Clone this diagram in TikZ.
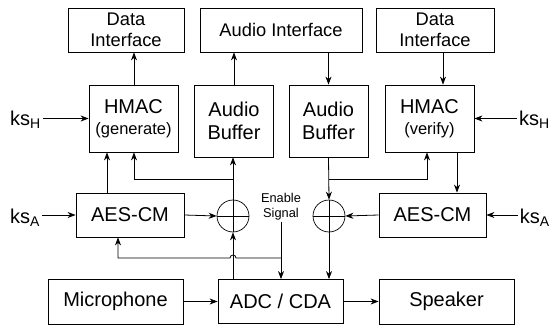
\documentclass[tikz,border=0pt]{standalone}
\usepackage{fontspec}
\setmainfont{Liberation Sans}
\usetikzlibrary{arrows.meta,calc}

\tikzset{
  every picture/.style={x=1pt,y=-1pt},
  box/.style={draw,line width=0.8pt,align=center,inner sep=0pt,
    font=\fontsize{20}{23}\selectfont},
  ifbox/.style={box,font=\fontsize{18.3}{21.5}\selectfont},
  subtxt/.style={font=\fontsize{16.5}{19}\selectfont},
  xorc/.style={draw,circle,line width=0.7pt,minimum size=32pt,inner sep=0pt,
    path picture={\draw[line width=0.7pt]
      (path picture bounding box.north) -- (path picture bounding box.south)
      (path picture bounding box.west) -- (path picture bounding box.east);}},
  arr/.style={line width=0.8pt,-{Stealth[length=8pt,width=6pt,inset=2.5pt]}},
  keylbl/.style={inner sep=2pt,font=\fontsize{20}{23}\selectfont}
}

\begin{document}
\begin{tikzpicture}
\useasboundingbox (0,0) rectangle (552,329);

% top row: interfaces
\node[ifbox,minimum width=116pt,minimum height=44pt] (dil) at (126,30) {Data\\Interface};
\node[ifbox,minimum width=162pt,minimum height=44pt] (ai) at (281,30) {Audio Interface};
\node[ifbox,minimum width=118pt,minimum height=44pt] (dir) at (435,30) {Data\\Interface};

% second row: HMACs and buffers
\node[box,minimum width=89pt,minimum height=67pt] (hg) at (133.5,118.5)
  {HMAC\\[-2pt]{\fontsize{16.5}{19}\selectfont(generate)}};
\node[box,minimum width=79pt,minimum height=72pt] (bl) at (234,121) {Audio\\Buffer};
\node[box,minimum width=79pt,minimum height=72pt] (br) at (328.5,121) {Audio\\Buffer};
\node[box,minimum width=89pt,minimum height=67pt] (hv) at (429.5,118.5)
  {HMAC\\[-2pt]{\fontsize{16.5}{19}\selectfont(verify)}};

% third row: ciphers and mixers
\node[box,minimum width=108pt,minimum height=44pt] (aesl) at (130,215) {AES-CM};
\node[box,minimum width=107pt,minimum height=44pt] (aesr) at (432.5,215) {AES-CM};
\node[xorc] (xorl) at (233,216) {};
\node[xorc] (xorr) at (329,216) {};

% bottom row
\node[box,minimum width=135pt,minimum height=45pt] (mic) at (115.5,301.5) {Microphone};
\node[box,minimum width=125pt,minimum height=44pt] (adc) at (280.5,301.5) {ADC / CDA};
\node[box,minimum width=135pt,minimum height=45pt] (spk) at (446.5,301.5) {Speaker};

% key inputs
\node[keylbl,anchor=west] (kshl) at (8,120) {ks\textsubscript{H}};
\node[keylbl,anchor=west] (ksal) at (8,218) {ks\textsubscript{A}};
\node[keylbl,anchor=east] (kshr) at (552,120) {ks\textsubscript{H}};
\node[keylbl,anchor=east] (ksar) at (552,218) {ks\textsubscript{A}};

% enable signal label
\node[align=center,inner sep=1pt,font=\fontsize{12.8}{15}\selectfont] (en) at (281,207) {Enable\\Signal};

% junction points
\coordinate (jl) at (233,179);
\coordinate (jr) at (329,179);
\coordinate (hgk) at (107,0);
\coordinate (hgb) at (134,0);
\coordinate (hvb) at (427,0);
\coordinate (hvo) at (457,0);
\coordinate (dio) at (443,0);
\coordinate (fb) at (281,258);
\coordinate (fbl) at (118,258);

% key arrows
\draw[arr] (kshl.east |- hg.west) -- (hg.west);
\draw[arr] (ksal.east |- aesl.west) -- (aesl.west);
\draw[arr] (kshr.west |- hv.east) -- (hv.east);
\draw[arr] (ksar.west |- aesr.east) -- (aesr.east);

% sender side
\draw[arr] (hg.north -| hgb) -- (dil.south -| hgb);
\draw[arr] (bl.north) -- (bl.north |- ai.south);
\draw[arr] (aesl.north -| hgk) -- (hg.south -| hgk);
\draw[arr] (adc.north -| xorl) -- (xorl.south);
\draw[arr] (xorl.north) -- (bl.south -| xorl);
\draw[arr] (jl) -| (hg.south -| hgb);
\draw[arr] (aesl.east) -- (xorl.west);

% enable signal and its branch back to the cipher
\draw[arr] (en.south) -- (adc.north -| en.south);
\draw[arr] (fb) -- ([xshift=3pt]fb -| xorl) arc[start angle=0,end angle=180,radius=3pt]
  -- (fbl) -- (aesl.south -| fbl);

% receiver side
\draw[arr] (ai.south -| br) -- (br.north);
\draw[arr] (dir.south -| dio) -- (hv.north -| dio);
\draw[arr] (br.south) -- (xorr.north);
\draw[arr] (xorr.south) -- (adc.north -| xorr);
\draw[arr] (jr) -| (hv.south -| hvb);
\draw[arr] (hv.south -| hvo) -- (aesr.north -| hvo);
\draw[arr] (aesr.west) -- (xorr.east);

% audio path
\draw[arr] (mic.east) -- (adc.west);
\draw[arr] (adc.east) -- (spk.west);
\end{tikzpicture}
\end{document}
